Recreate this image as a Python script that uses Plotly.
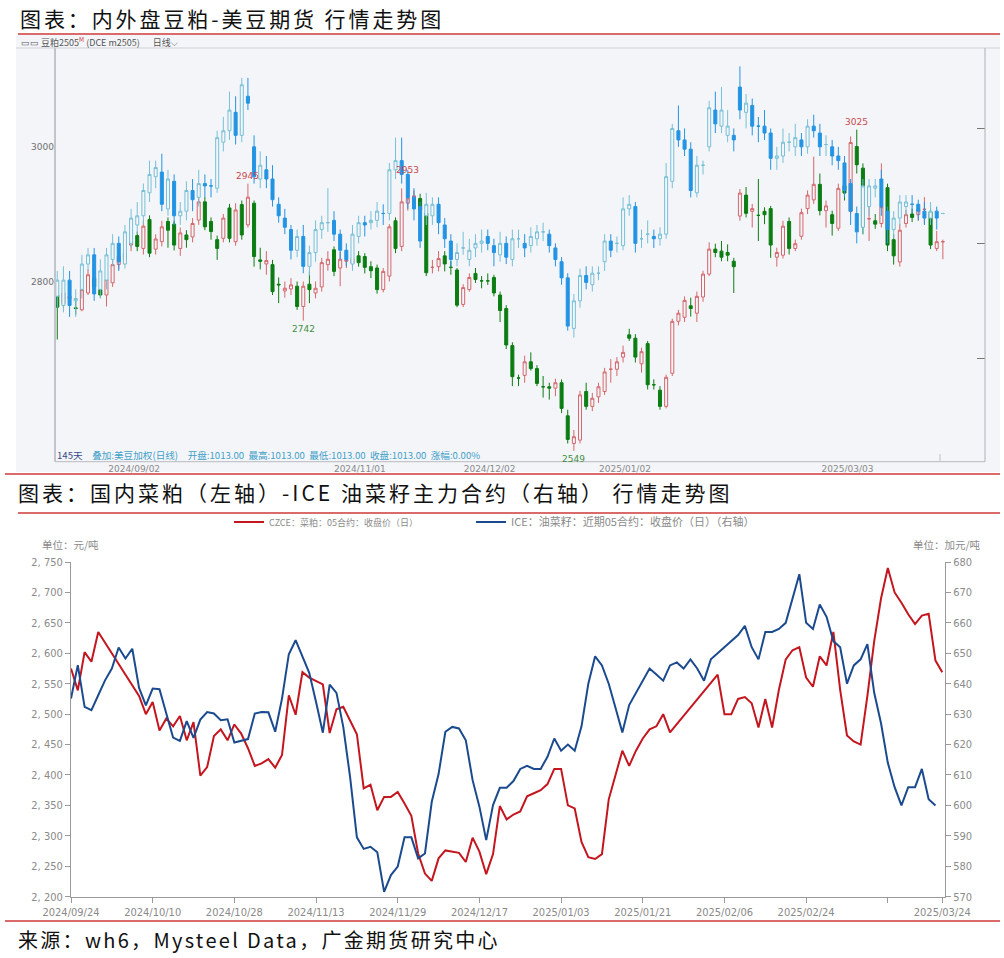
import plotly.graph_objects as go

W, H = 1004, 958
def X(px): return px / W
def Y(py): return 1 - py / H

# ---------------- top panel data (DCE soybean meal m2505, daily) ----------------
dce_open = [2780,2767,2775,2761,2758,2783,2805,2788,2780,2798, 2825,2842,2854,2868,2849,2892,2848,2859,2889,2885,
            2849,2869,2866,2891,2918,2889,2862,2864,2909,2859, 2914,2884,2916,2832,2826,2825,2796,2786,2789,2793,
            2763,2796,2783,2792,2825,2847,2820,2830,2827,2838, 2837,2822,2820,2788,2808,2890,2852,2916,2921,2923,
            2901,2821,2822,2838,2821,2817,2766,2788,2812,2801, 2801,2806,2780,2760,2705,2657,2661,2681,2671,2644,
            2644,2642,2650,2601,2560,2565,2637,2615,2629,2637, 2670,2670,2688,2721,2716,2678,2708,2647,2639,2615,
            2664,2741,2747,2764,2753,2777,2811,2848,2845,2843, 2830,2897,2928,2904,2898,2904,2908,2836,2839,2889,
            2849,2867,2908,2921,2944,2905,2899,2879,2942,2904, 3000,2968,2893,2890,2886,2939,2862,2829,2886,2900,
            2899,2907,2903,2849,2859]
dce_close = [2762,2783,2778,2760,2788,2810,2792,2780,2803,2825, 2838,2833,2859,2852,2882,2842,2863,2881,2876,2854,
             2872,2862,2886,2918,2881,2874,2849,2894,2864,2906, 2869,2925,2837,2830,2831,2785,2795,2790,2795,2763,
             2793,2788,2790,2828,2833,2815,2833,2832,2834,2828, 2821,2816,2788,2815,2881,2849,2918,2924,2927,2906,
             2813,2821,2834,2826,2821,2765,2791,2806,2803,2801, 2801,2783,2757,2706,2659,2657,2681,2671,2649,2644,
             2642,2650,2612,2566,2570,2632,2615,2627,2644,2666, 2670,2681,2695,2716,2688,2696,2647,2647,2615,2658,
             2741,2753,2772,2760,2778,2811,2848,2843,2836,2839, 2822,2931,2901,2908,2898,2899,2854,2843,2882,2849,
             2856,2902,2928,2944,2905,2912,2886,2938,2931,3006, 2973,2881,2893,2885,2911,2854,2838,2876,2899,2895,
             2907,2907,2854,2859,2859]
dce_high = [2787,2790,2792,2773,2795,2818,2812,2800,2810,2835, 2846,2850,2866,2874,2890,2898,2870,2890,2895,2890,
            2880,2876,2894,2924,2925,2895,2868,2900,2915,2916, 2920,2945,2920,2850,2845,2832,2806,2800,2805,2800,
            2800,2815,2800,2835,2845,2852,2844,2842,2840,2845, 2842,2830,2825,2820,2885,2895,2938,2953,2935,2930,
            2905,2832,2845,2845,2830,2820,2796,2812,2820,2808, 2812,2810,2785,2765,2710,2662,2690,2695,2676,2660,
            2650,2656,2655,2610,2580,2638,2650,2635,2650,2672, 2685,2688,2705,2730,2722,2702,2712,2655,2645,2662,
            2745,2758,2778,2776,2785,2816,2858,2856,2860,2855, 2835,2937,2940,2915,2952,2910,2912,2850,2890,2895,
            2862,2908,2935,2985,2960,2920,2905,2945,2950,3015, 3025,2975,2930,2900,2975,2945,2870,2885,2906,2908,
            2915,2925,2908,2875,2862]
dce_low = [2714,2760,2768,2751,2756,2780,2786,2776,2763,2792, 2818,2826,2845,2845,2840,2836,2840,2852,2850,2846,
           2838,2850,2858,2884,2876,2862,2832,2858,2858,2853, 2862,2880,2822,2818,2810,2780,2768,2776,2780,2758,
           2742,2768,2775,2785,2816,2808,2793,2820,2818,2822, 2812,2805,2782,2784,2800,2842,2845,2905,2910,2895,
           2808,2812,2815,2815,2810,2762,2762,2785,2798,2790, 2795,2778,2740,2700,2645,2645,2650,2668,2645,2628,
           2625,2630,2605,2560,2549,2560,2610,2608,2620,2632, 2650,2660,2680,2712,2680,2665,2640,2640,2610,2612,
           2660,2735,2740,2748,2740,2770,2808,2836,2830,2830, 2783,2890,2895,2880,2860,2885,2835,2822,2834,2840,
           2845,2862,2900,2915,2898,2880,2868,2875,2920,2900, 2960,2870,2860,2878,2880,2845,2825,2822,2880,2888,
           2890,2885,2848,2845,2833]

# overlay: US soybean weighted (cents/bu), same days
us_open = [977,973,984,975,980,991,995,980,984,993, 1000,991,1000,1008,1012,1022,1029,1031,1015,1027,
           1012,1014,1023,1020,1026,1025,1024,1044,1049,1057, 1047,1064,1042,1028,1032,1028,1017,1011,1006,997,
           1003,990,996,1006,1009,1010,1004,997,991,1003, 1009,1009,1010,1013,1013,1032,1036,1030,1020,1016,
           1012,1012,1017,1008,1001,993,998,993,998,1000, 1003,999,995,1000,993,1002,1000,999,1002,1005,
           1004,998,992,985,963,975,986,982,987,992, 1001,1000,999,1015,1016,1002,1004,1003,1002,1004,
           1027,1049,1045,1041,1022,1034,1042,1058,1051,1047, 1047,1068,1057,1060,1051,1051,1048,1037,1038,1044,
           1042,1045,1042,1051,1048,1043,1042,1038,1035,1026, 1013,1007,1016,1024,1028,1014,1006,1011,1016,1017,
           1017,1014,1011,1014,1013]
us_close = [984,984,973,976,991,995,978,988,995,1000, 992,1005,1011,1012,1023,1030,1033,1017,1028,1012,
            1014,1023,1019,1026,1025,1025,1046,1049,1058,1047, 1069,1061,1029,1034,1028,1019,1012,1007,997,1003,
            990,996,1006,1009,1009,1004,997,993,1004,1009, 1008,1010,1014,1013,1032,1036,1030,1020,1015,1001,
            1017,1017,1009,1002,993,996,998,997,1000,1001, 1000,996,1000,994,1002,1002,998,1003,1005,1005,
            999,993,985,964,975,986,983,987,987,1001, 997,1000,1015,1017,1000,1002,1004,1002,1004,1029,
            1050,1045,1041,1023,1034,1034,1059,1052,1058,1051, 1045,1058,1061,1051,1051,1048,1037,1038,1044,1044,
            1046,1042,1051,1049,1042,1043,1038,1036,1023,1014, 1005,1025,1025,1025,1016,1006,1011,1018,1018,1017,
            1014,1011,1014,1011,1013]
us_high = [988,990,988,980,995,998,998,993,998,1004, 1003,1008,1015,1018,1026,1036,1036,1039,1032,1030,
           1018,1027,1028,1032,1030,1028,1049,1055,1066,1064, 1072,1072,1047,1040,1038,1034,1020,1015,1008,1006,
           1008,999,1010,1012,1024,1014,1006,1000,1008,1012, 1012,1014,1018,1017,1035,1046,1046,1032,1024,1018,
           1022,1020,1020,1011,1004,1000,1005,1002,1004,1006, 1006,1002,1005,1003,1006,1006,1004,1007,1008,1009,
           1006,1000,994,987,978,989,990,990,990,1004, 1004,1003,1020,1021,1018,1006,1010,1006,1007,1035,
           1052,1060,1050,1044,1038,1036,1062,1066,1068,1058, 1050,1077,1065,1063,1055,1058,1050,1042,1050,1048,
           1052,1048,1054,1056,1052,1047,1045,1042,1038,1028, 1016,1028,1028,1028,1032,1016,1014,1021,1021,1021,
           1019,1018,1018,1016,1013]
us_low = [972,970,968,968,976,988,975,976,980,990, 988,989,998,1004,1008,1018,1024,1014,1012,1008,
          1008,1010,1014,1016,1020,1020,1022,1040,1045,1043, 1044,1058,1026,1024,1024,1016,1009,1004,993,994,
          987,986,992,1002,1005,1001,993,990,988,1000, 1003,1006,1007,1008,1010,1028,1026,1015,1010,998,
          1008,1008,1004,998,990,990,995,990,994,996, 997,990,992,991,990,998,994,996,999,1001,
          996,990,982,962,959,972,980,979,984,988, 994,996,997,1012,996,998,1000,998,999,1002,
          1024,1042,1038,1020,1020,1030,1040,1048,1048,1044, 1040,1054,1050,1047,1044,1045,1032,1032,1035,1040,
          1038,1038,1039,1046,1038,1038,1034,1032,1020,1008, 1000,1004,1012,1020,1012,1000,1002,1008,1012,1013,
          1010,1008,1008,1006,1013]
top_days = list(range(len(dce_close)))
top_tick_pos = [12.5, 49.2, 70.3, 92.3, 128.5]
top_tick_text = ["2024/09/02", "2024/11/01", "2024/12/02", "2025/01/02", "2025/03/03"]

# ---------------- bottom panel data ----------------
czce_rm = [2575,2539,2602,2586,2635,None,None,None,None,None, 2530,2500,2520,2473,2493,2480,2497,2457,2487,2399,
           2413,2464,2475,2457,2483,2468,2444,2415,2419,2426, 2412,2433,2531,2499,2569,2560,2554,2549,2469,2508,
           2512,2490,2467,2378,2384,2342,2364,2364,2372,2353, 2333,2271,2238,2226,2263,2276,2274,2272,2257,2297,
           2274,2237,2270,2349,2327,2335,2340,2365,2370,2375, 2385,2410,2410,2350,2345,2290,2265,2262,2270,2360,
           2400,2440,2415,2440,2460,2475,2480,2500,2470,None, None,None,None,None,None,2565,2500,2500,2525,2528,
           2518,2478,2525,2478,2540,2590,2605,2610,2560,2545, 2595,2580,2635,2540,2465,2455,2450,2530,2620,2690,
           2740,2700,2683,2664,2648,2662,2665,2588,2569]
ice_rs = [635.1,646.1,632.4,631.3,636.2,641.1,645.0,651.9,648.3,651.5, 638.6,632.9,638.4,638.2,630.2,622.3,621.2,627.7,622.2,628.2,
          630.7,630.2,628.0,628.3,620.7,621.2,621.8,630.2,630.7,630.6, 624.2,635.1,649.7,654.3,648.8,643.6,634.0,623.9,639.7,637.0,
          625.8,609.4,589.5,585.7,586.4,584.6,571.6,577.1,579.9,589.5, 589.5,582.6,584.2,601.2,610.3,624.2,625.8,625.3,621.4,608.3,
          599.6,588.6,600.1,605.8,605.8,608,612,613,612,612, 616,622,618,620,618,626,640,649,646,640,
          632,624,633,637,641,645,643,641,646,647, 645,648,645,641,648,650,652,654,656,659,
          652,648,657,657,658,660,668,676,660,658, 666,662,654,652,640,646,648,653,637,627,
          614,606,600,606,606,612,602,600,None]
bot_days = list(range(len(czce_rm)))
bot_tick_pos = [0, 12, 24, 36, 48, 60, 72, 84, 96, 108, 120, 128]
bot_tick_text = ["2024/09/24", "2024/10/10", "2024/10/28", "2024/11/13", "2024/11/29", "2024/12/17",
                 "2025/01/03", "2025/01/21", "2025/02/06", "2025/02/24", " ", "2025/03/24"]
left_ticks = [2200, 2250, 2300, 2350, 2400, 2450, 2500, 2550, 2600, 2650, 2700, 2750]
right_ticks = [570, 580, 590, 600, 610, 620, 630, 640, 650, 660, 670, 680]

PANEL_BG = "#f4f5f9"
CJK = "Noto Sans CJK SC"

fig = go.Figure()

fig.add_trace(go.Candlestick(
    x=top_days, open=dce_open, high=dce_high, low=dce_low, close=dce_close,
    xaxis="x", yaxis="y", showlegend=False, whiskerwidth=0,
    increasing=dict(line=dict(color="#d4676b", width=1), fillcolor=PANEL_BG),
    decreasing=dict(line=dict(color="#0b7d12", width=1), fillcolor="#0b7d12"),
    hoverinfo="skip"))
fig.add_trace(go.Candlestick(
    x=top_days, open=us_open, high=us_high, low=us_low, close=us_close,
    xaxis="x", yaxis="y2", showlegend=False, whiskerwidth=0,
    increasing=dict(line=dict(color="#76c0d6", width=1), fillcolor=PANEL_BG),
    decreasing=dict(line=dict(color="#2394e3", width=1), fillcolor="#2394e3"),
    hoverinfo="skip"))

fig.add_trace(go.Scatter(
    x=bot_days, y=czce_rm, mode="lines", connectgaps=True, legend="legend",
    name="CZCE：菜粕：05合约：收盘价（日）",
    line=dict(color="#c3161f", width=2), xaxis="x2", yaxis="y3"))
fig.add_trace(go.Scatter(
    x=bot_days, y=ice_rs, mode="lines", connectgaps=True, legend="legend2",
    name="ICE：油菜籽：近期05合约：收盘价（日）（右轴）",
    line=dict(color="#1b4a8e", width=2), xaxis="x2", yaxis="y4"))

fig.update_layout(
    template="none",
    width=W, height=H, margin=dict(l=0, r=0, t=0, b=0, autoexpand=False),
    paper_bgcolor="white", plot_bgcolor="rgba(0,0,0,0)",
    font=dict(family=CJK),
    xaxis=dict(domain=[X(55), X(985)], range=[-0.37, 150.85], anchor="y", automargin=False,
               showgrid=False, zeroline=False, showline=False, ticks="",
               tickvals=top_tick_pos, ticktext=top_tick_text,
               tickfont=dict(size=9, color="#8a8a8a", family="DejaVu Sans"),
               rangeslider=dict(visible=False), fixedrange=True),
    yaxis=dict(domain=[Y(461.7), Y(48)], range=[2533, 3146], anchor="x", automargin=False,
               showgrid=False, zeroline=False, showline=False, ticks="",
               tickvals=[2800, 3000], ticktext=["2800", "3000"],
               tickfont=dict(size=9, color="#6f6f6f", family="DejaVu Sans")),
    yaxis2=dict(overlaying="y", side="right", anchor="x", range=[905, 1085], automargin=False,
                showgrid=False, zeroline=False, showline=False, showticklabels=False,
                tickvals=[950, 1000, 1050], ticks="inside", ticklen=8, tickcolor="#777"),
    xaxis2=dict(domain=[X(71), X(945)], range=[0, 128.4], anchor="y3", automargin=False,
                showgrid=False, zeroline=False, showline=True, linecolor="#9a9a9a",
                ticks="outside", ticklen=5, tickcolor="#9a9a9a",
                tickvals=bot_tick_pos, ticktext=bot_tick_text,
                tickfont=dict(size=11, color="#8a8a8a", family="DejaVu Sans Condensed")),
    yaxis3=dict(domain=[Y(896.7), Y(562)], range=[2200, 2750], anchor="x2", automargin=False,
                showgrid=False, zeroline=False, showline=True, linecolor="#9a9a9a",
                ticks="outside", ticklen=5, tickcolor="#9a9a9a",
                tickvals=left_ticks, ticktext=[f"{v:,}".replace(",", ", ") for v in left_ticks],
                tickfont=dict(size=11, color="#8a8a8a", family="DejaVu Sans Condensed")),
    yaxis4=dict(overlaying="y3", side="right", anchor="x2", range=[570, 680], automargin=False,
                showgrid=False, zeroline=False, showline=True, linecolor="#9a9a9a",
                ticks="outside", ticklen=5, tickcolor="#9a9a9a",
                tickvals=right_ticks, ticktext=[str(v) for v in right_ticks],
                tickfont=dict(size=11, color="#8a8a8a", family="DejaVu Sans Condensed")),
    legend=dict(orientation="h", x=X(229), xanchor="left", y=Y(522), yanchor="middle",
                bgcolor="rgba(0,0,0,0)", font=dict(size=9, color="#8a8a8a", family=CJK),
                itemclick=False),
    legend2=dict(orientation="h", x=X(471), xanchor="left", y=Y(522), yanchor="middle",
                 bgcolor="rgba(0,0,0,0)", font=dict(size=11, color="#8a8a8a", family=CJK),
                 itemclick=False),
)

shapes = []
def pline(x0, y0, x1, y1, color, width=1):
    shapes.append(dict(type="line", xref="paper", yref="paper", x0=X(x0), y0=Y(y0), x1=X(x1), y1=Y(y1),
                       line=dict(color=color, width=width)))
# top panel background
shapes.append(dict(type="rect", xref="paper", yref="paper", x0=X(16), x1=X(1000), y0=Y(472), y1=Y(35),
                   fillcolor=PANEL_BG, line=dict(width=0), layer="below"))
pline(16, 48, 1000, 48, "#cfd0d6", 1)
pline(55, 48, 55, 461.7, "#c3c4c9", 2)
pline(55, 461.7, 985, 461.7, "#b9bac0", 1)
pline(985, 48, 985, 461.7, "#aeb0b6", 1)
pline(940, 454, 940, 461, "#c0c0c0", 1)
# red rules
RED = "#cf3a3a"
pline(18, 34, 1000, 34, RED, 1.5)
pline(5, 474, 1000, 474, RED, 1.5)
pline(18, 513, 1000, 513, RED, 1.5)
pline(5, 921, 1000, 921, RED, 1.5)
fig.update_layout(shapes=shapes)

ann = []
def text(px, py, s, size, color="#111", xanchor="left", family=CJK):
    ann.append(dict(xref="paper", yref="paper", x=X(px), y=Y(py), text=s, showarrow=False,
                    xanchor=xanchor, yanchor="middle", font=dict(size=size, color=color, family=family)))
text(18, 18, '<span style="letter-spacing:2.9px">图表：内外盘豆粕-美豆期货 行情走势图</span>', 21)
text(16, 492, '<span style="letter-spacing:3px">图表：国内菜粕（左轴）-ICE 油菜籽主力合约（右轴） 行情走势图</span>', 21)
text(16, 939, '<span style="letter-spacing:2.3px">来源：wh6，Mysteel Data，广金期货研究中心</span>', 20)
text(19, 42, "▭▭ 豆粕2505<sup><span style='color:#e03030'>M</span></sup> (DCE m2505)　  日线⌵", 9, "#555")
text(55, 455, "<span style='color:#3b4a8a'>145天</span>　<span style='color:#3fa0c8'>叠加:美豆加权(日线)　开盘:1013.00  最高:1013.00  最低:1013.00  收盘:1013.00  涨幅:0.00%</span>", 9.6, "#3fa0c8")
text(40, 544, "单位：元/吨", 10.5, "#8a8a8a")
text(983, 544, "单位：加元/吨", 10.5, "#8a8a8a", xanchor="right")

# extreme-value labels on the candles
def mark(i, v, s, color, above=True):
    ann.append(dict(xref="x", yref="y", x=i, y=v, text=s, showarrow=False,
                    yanchor="bottom" if above else "top", yshift=1 if above else -1,
                    font=dict(size=9, color=color, family="DejaVu Sans")))
mark(31, 2945, "2945", "#c9484c")
mark(57, 2953, "2953", "#c9484c")
mark(130, 3025, "3025", "#c9484c")
mark(40, 2742, "2742", "#3f8f3f", above=False)
mark(84, 2549, "2549", "#3f8f3f", above=False)
fig.update_layout(annotations=ann)

fig.write_html("out.html", config={"displayModeBar": False},
               post_script="document.body.style.margin='0px';document.body.style.overflow='hidden';")
